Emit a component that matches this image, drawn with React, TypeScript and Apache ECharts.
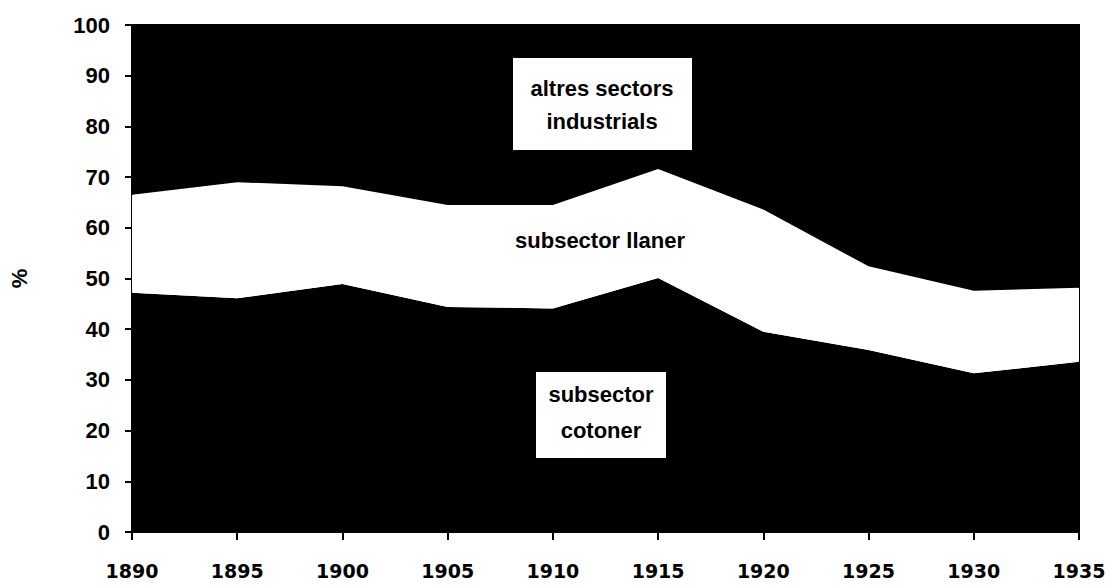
import React, { useEffect, useRef } from "react";
import * as echarts from "echarts";

const years = ["1890", "1895", "1900", "1905", "1910", "1915", "1920", "1925", "1930", "1935"];
const cotoner = [47.2, 46.1, 48.9, 44.4, 44.1, 50.1, 39.5, 35.9, 31.3, 33.6];
const llaner = [19.3, 22.9, 19.3, 20.1, 20.4, 21.5, 24.1, 16.5, 16.3, 14.6];
const altres = [33.5, 31.0, 31.8, 35.5, 35.5, 28.4, 36.4, 47.6, 52.4, 51.8];

const labelAltres = ["altres sectors", "industrials"];
const labelLlaner = "subsector llaner";
const labelCotoner = ["subsector", "cotoner"];

export default function App() {
  const ref = useRef<HTMLDivElement>(null);
  useEffect(() => {
    if (!ref.current) return;
    const chart = echarts.init(ref.current, null, { renderer: "svg" });
    const area = (name: string, data: number[], color: string) => ({
      name,
      type: "line",
      stack: "total",
      data,
      symbol: "none",
      lineStyle: { width: 0, color },
      itemStyle: { color },
      areaStyle: { color, opacity: 1 },
      silent: true,
    });
    const txt = {
      fontFamily: "Liberation Sans, Arial, sans-serif",
      fontWeight: "bold",
      fontSize: 22,
      fill: "#000",
    };
    chart.setOption({
      animation: false,
      backgroundColor: "#fff",
      grid: {
        left: 130,
        right: 33,
        top: 25,
        bottom: 53,
        show: true,
        borderColor: "#000",
        borderWidth: 2,
        backgroundColor: "transparent",
      },
      xAxis: {
        type: "category",
        data: years,
        boundaryGap: false,
        axisLine: { show: true, lineStyle: { color: "#000", width: 2 } },
        axisTick: { show: true, inside: false, length: 8, alignWithLabel: true, lineStyle: { color: "#000", width: 2 } },
        axisLabel: {
          margin: 29,
          color: "#000",
          fontFamily: "DejaVu Sans, sans-serif",
          fontWeight: "bold",
          fontSize: 19,
        },
        splitLine: { show: false },
      },
      yAxis: {
        type: "value",
        min: 0,
        max: 100,
        interval: 10,
        name: "%",
        nameLocation: "middle",
        nameGap: 102,
        nameRotate: 90,
        nameTextStyle: {
          color: "#000",
          fontFamily: "Liberation Sans, Arial, sans-serif",
          fontWeight: "bold",
          fontSize: 22,
        },
        axisLine: { show: true, lineStyle: { color: "#000", width: 2 } },
        axisTick: { show: true, inside: false, length: 7, lineStyle: { color: "#000", width: 2 } },
        axisLabel: {
          margin: 22,
          color: "#000",
          fontFamily: "Liberation Sans, Arial, sans-serif",
          fontWeight: "bold",
          fontSize: 22,
        },
        splitLine: { show: false },
      },
      series: [
        area("subsector cotoner", cotoner, "#000"),
        area("subsector llaner", llaner, "#fff"),
        area("altres sectors industrials", altres, "#000"),
      ],
      graphic: [
        { type: "rect", shape: { x: 513, y: 58, width: 179, height: 92 }, style: { fill: "#fff" }, z: 100 },
        { type: "text", x: 602, y: 88, z: 101, style: { ...txt, text: labelAltres[0], align: "center", verticalAlign: "middle" } },
        { type: "text", x: 602, y: 121, z: 101, style: { ...txt, text: labelAltres[1], align: "center", verticalAlign: "middle" } },
        { type: "text", x: 600, y: 240, z: 101, style: { ...txt, text: labelLlaner, align: "center", verticalAlign: "middle" } },
        { type: "rect", shape: { x: 536, y: 372, width: 130, height: 86 }, style: { fill: "#fff" }, z: 100 },
        { type: "text", x: 601, y: 394, z: 101, style: { ...txt, text: labelCotoner[0], align: "center", verticalAlign: "middle" } },
        { type: "text", x: 601, y: 430, z: 101, style: { ...txt, text: labelCotoner[1], align: "center", verticalAlign: "middle" } },
      ],
    });
    return () => chart.dispose();
  }, []);
  return (
    <div
      ref={ref}
      style={{ position: "fixed", left: 0, top: 0, width: 1112, height: 585 }}
    />
  );
}
